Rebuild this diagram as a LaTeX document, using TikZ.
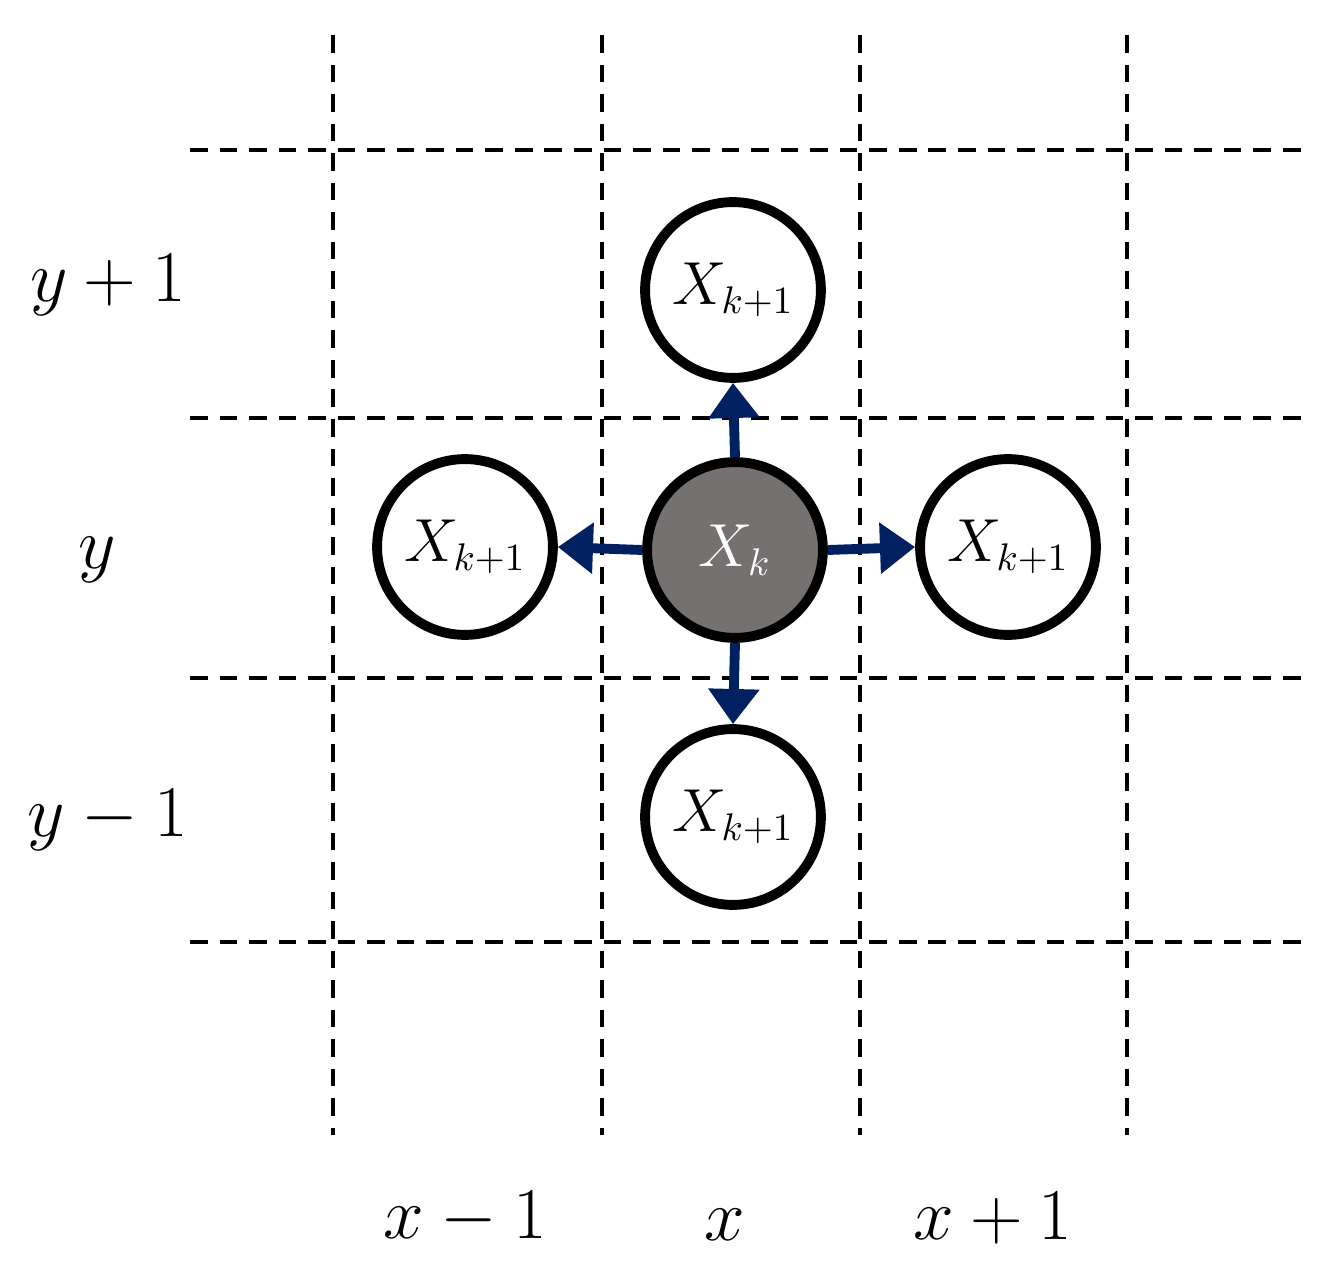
\documentclass[tikz,border=0pt]{standalone}
\usetikzlibrary{arrows.meta}
\definecolor{navy}{HTML}{002060}
\definecolor{grey}{HTML}{767171}
\begin{document}
\begin{tikzpicture}[x=0.01cm,y=-0.01cm,
 grid/.style={line width=1.1pt,dash pattern=on 5pt off 3.4pt},
 st/.style={circle,draw,line width=2.8pt,minimum size=50pt,inner sep=0pt,font=\fontsize{16}{18}\selectfont},
 ar/.style={navy,line width=2.8pt,-{Triangle[length=10pt,width=14pt]}},
 lab/.style={font=\fontsize{21}{24}\selectfont}]
\useasboundingbox (0,0) rectangle (1338,1276);
\foreach \x in {333,602,860,1127} \draw[grid] (\x,35) -- (\x,1135);
\foreach \y in {150,418,678,942} \draw[grid] (190,\y) -- (1308,\y);
\node[st,fill=grey,text=white] (c) at (735,550) {$X_k$};
\node[st] (t) at (733,290) {$X_{k+1}$};
\node[st] (l) at (465,547) {$X_{k+1}$};
\node[st] (r) at (1008,547) {$X_{k+1}$};
\node[st] (b) at (733,817) {$X_{k+1}$};
\draw[ar] (c.north) -- (t.south);
\draw[ar] (c.west) -- (l.east);
\draw[ar] (c.east) -- (r.west);
\draw[ar] (c.south) -- (b.north);
\node[lab] (ly1) at (108,285) {$y+1$};
\node[lab] (ly) at (97,560) {$y$};
\node[lab] (ly2) at (108,820) {$y-1$};
\node[lab] (lx1) at (465,1218) {$x-1$};
\node[lab] (lx) at (725,1225) {$x$};
\node[lab] (lx2) at (993,1218) {$x+1$};
\end{tikzpicture}
\end{document}
